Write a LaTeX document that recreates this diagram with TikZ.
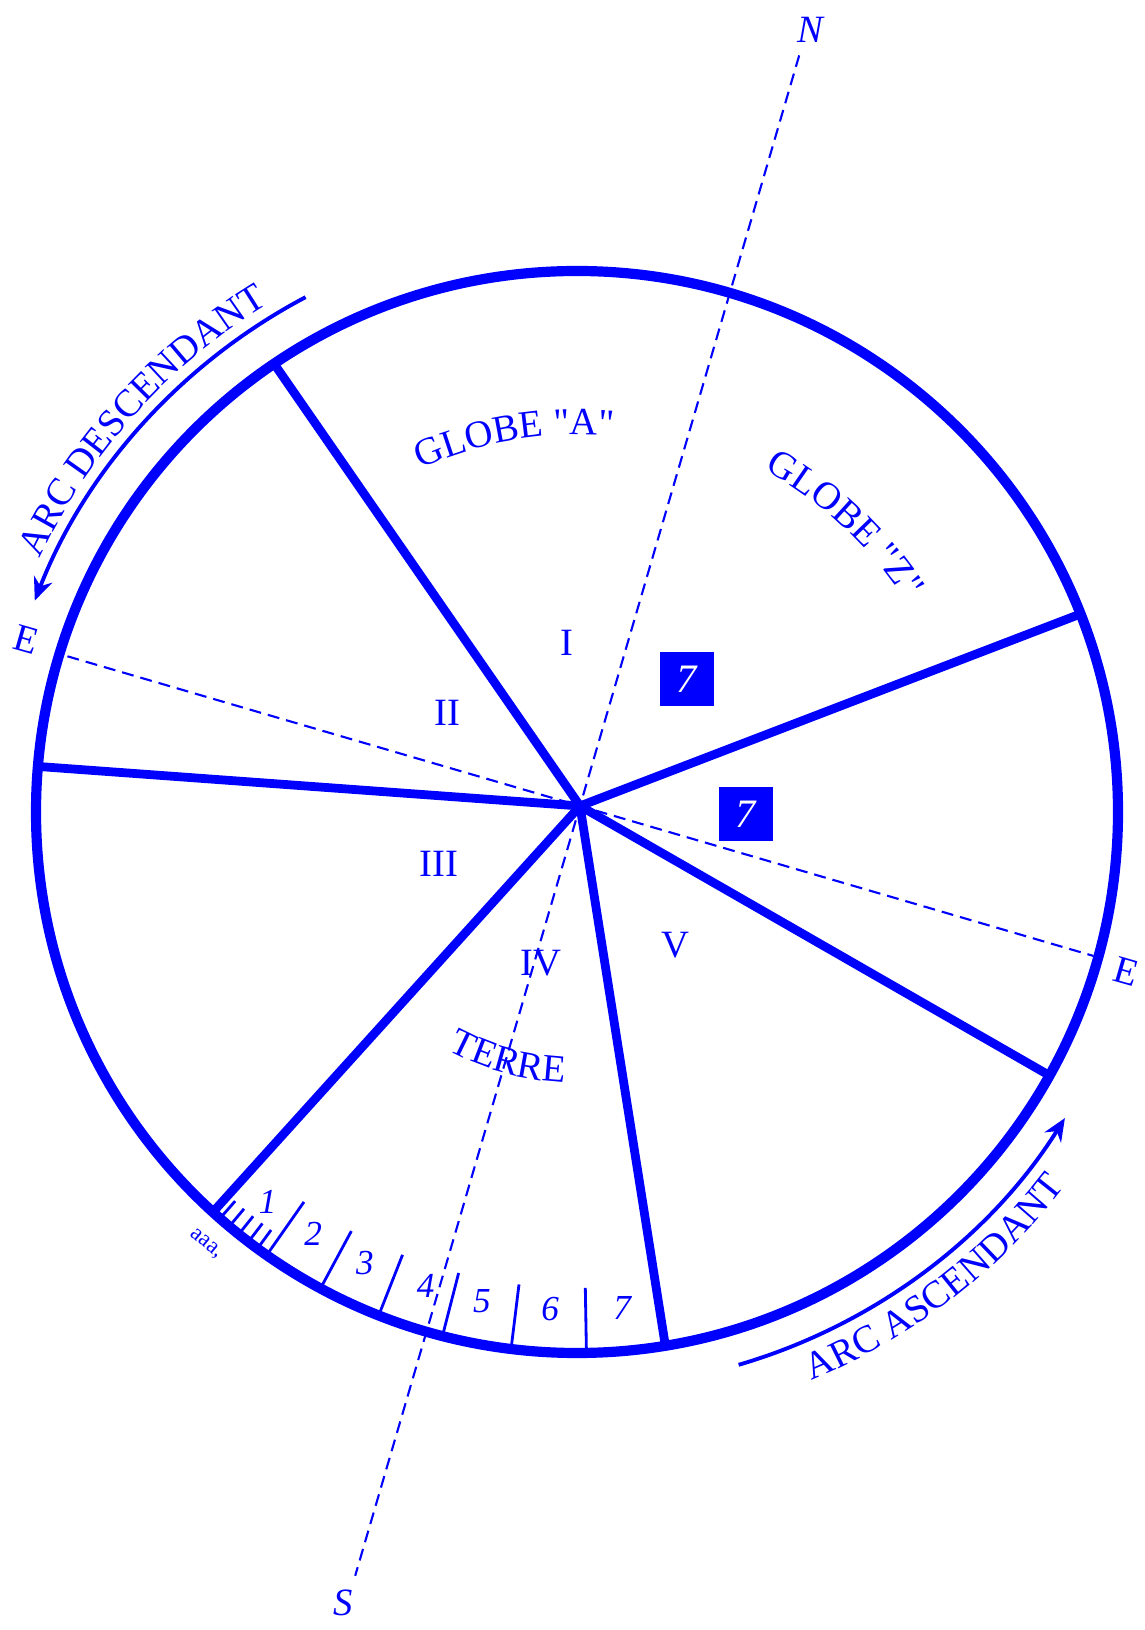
\documentclass[tikz,border=0pt]{standalone}
\usepackage{fontspec}
\setmainfont{Liberation Serif}[Ligatures=TeXOff]
\usetikzlibrary{calc,arrows.meta,decorations.text}

\begin{document}
\begin{tikzpicture}[x=0.02cm,y=0.02cm,
		every node/.style={text=blue},
		rayon/.style={blue,line width=5pt},
		axe/.style={blue,line width=1.2pt,dash pattern=on 6.8pt off 4pt},
		graduation/.style={blue,line width=1.6pt},
		fleche/.style={blue,line width=2.2pt,-{Stealth[length=13pt,width=11pt]}},
		chiffre/.style={font=\fontsize{20}{20}\selectfont\itshape},
		romain/.style={font=\fontsize{22}{22}\selectfont},
		lettre/.style={font=\fontsize{22}{22}\selectfont\itshape},
		boite/.style={fill=blue,text=white,minimum size=1.08cm,inner sep=0pt,font=\fontsize{23}{23}\selectfont\itshape}]
		\useasboundingbox (0,0) rectangle (1144,1630);
		% Cercle
		\coordinate (O) at (577,818);
		\coordinate (H) at (580,824);
		\draw[blue,line width=5.8pt] (O) circle[radius=541];
		
		% Rayons
		\foreach \a/\n in {124.05/r1,21.47/r2,175.17/r3,227.7/r4,279.4/r5,330.85/r6} {
			\coordinate (\n) at ($(O)+(\a:541)$);
			\draw[rayon] (H) -- (\n);
		}
		
		% Axes N-S et E-E
		\coordinate (pN) at ($(H)+(73.72:782)$);
		\coordinate (pS) at ($(H)+(253.72:802)$);
		\coordinate (pE1) at ($(H)+(163.72:534)$);
		\coordinate (pE2) at ($(H)+(-16.28:535)$);
		\draw[axe] (pN) -- (pS);
		\draw[axe] (pE1) -- (pE2);
		\node[lettre] (nord) at (810,1600) {N};
		\node[lettre] (sud) at (343,27) {S};
		\node[romain,rotate=-16] (est1) at (26,990) {E};
		\node[romain,rotate=-16] (est2) at (1126,658) {E};
		
		% Graduations
		\foreach \a in {235,241.7,248.5,255.6,263,271}
			\draw[graduation] ($(O)+(\a:541)$) -- ($(O)+(\a:476)$);
		\foreach \a in {228.7,230,231.3,232.6,233.8}
			\draw[graduation] ($(O)+(\a:541)$) -- ($(O)+(\a:518)$);
		\foreach \a/\k in {231.6/1,238/2,244.8/3,252.3/4,259/5,266.9/6,275.2/7}
			\node[chiffre] (g\k) at ($(O)+(\a:498)$) {\k};
		\node[font=\fontsize{13}{13}\selectfont,rotate=-40] (aaa) at (206,386) {aaa,};
		
		% Secteurs
		\node[romain] (s1) at (567,987) {I};
		\node[romain] (s2) at (447,917) {II};
		\node[romain] (s3) at (439,766) {III};
		\node[romain] (s4) at (541,667) {IV};
		\node[romain] (s5) at (675,685) {V};
		\node[boite] (sept1) at (687,951) {7};
		\node[boite] (sept2) at (746,816) {7};
		
		% Textes courbes
		\path[decorate,decoration={text along path,text color=blue,text align=center,
			text={|\fontsize{22}{22}\selectfont|GLOBE "A"}}]
			($(O)+(120:377)$) arc[start angle=120,end angle=79,radius=377];
		\path[decorate,decoration={text along path,text color=blue,text align=center,
			text={|\fontsize{22}{22}\selectfont|GLOBE "Z"}}]
			($(O)+(68:390)$) arc[start angle=68,end angle=26,radius=390];
		\path[decorate,decoration={text along path,text color=blue,text align=center,
			text={|\fontsize{22}{22}\selectfont|TERRE}}]
			($(O)+(223.5:271)$) arc[start angle=223.5,end angle=285.5,radius=271];
		
		% Arcs
		\draw[fleche] ($(O)+(117.8:582)$) arc[start angle=117.8,end angle=158.7,radius=582];
		\path[decorate,decoration={text along path,text color=blue,text align=center,
			text={|\fontsize{22}{22}\selectfont|ARC DESCENDANT}}]
			($(O)+(162:594)$) arc[start angle=162,end angle=114,radius=594];
		\draw[fleche] ($(O)+(-73.7:576)$) arc[start angle=-73.7,end angle=-32.1,radius=576];
		\path[decorate,decoration={text along path,text color=blue,text align=center,
			text={|\fontsize{22}{22}\selectfont|ARC ASCENDANT}}]
			($(O)+(-77:615)$) arc[start angle=-77,end angle=-28,radius=615];
	\end{tikzpicture}
\end{document}
